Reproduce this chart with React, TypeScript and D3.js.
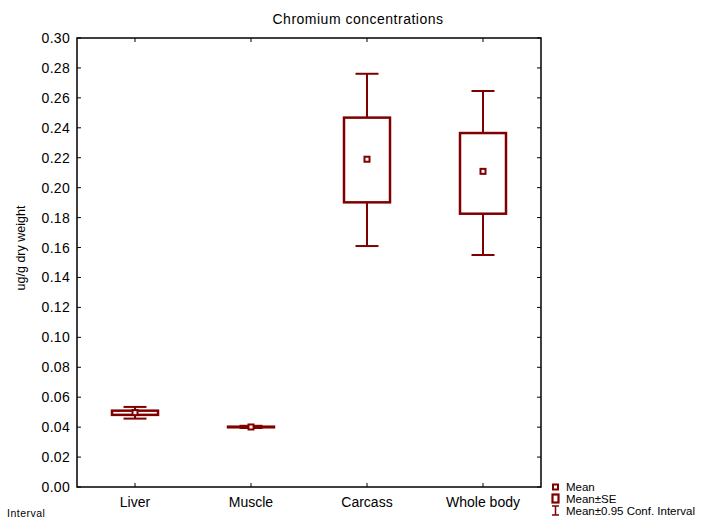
import React from "react";
import * as d3 from "d3";

const categories = ["Liver", "Muscle", "Carcass", "Whole body"];
const means = [0.0497, 0.0401, 0.219, 0.2109];
const seLow = [0.0482, 0.0399, 0.1902, 0.1826];
const seHigh = [0.0510, 0.0403, 0.2468, 0.2365];
const ciLow = [0.0457, 0.0394, 0.161, 0.155];
const ciHigh = [0.0535, 0.0409, 0.2761, 0.2646];
const yTicks = [0, 0.02, 0.04, 0.06, 0.08, 0.1, 0.12, 0.14, 0.16, 0.18, 0.2, 0.22, 0.24, 0.26, 0.28, 0.3];

const W = 715, H = 523;
const L = 77, R = 541, T = 38, B = 487;
const COL = "#800000";
const FONT = "Liberation Sans, Arial, sans-serif";

export default function App() {
  const x = d3.scaleBand().domain(categories).range([L, R]);
  const y = d3.scaleLinear().domain([0, 0.3]).range([B, T]);
  const cx = (c: string) => (x(c) as number) + x.bandwidth() / 2;
  const boxW = 46, capW = 23, m = 5;
  return (
    <svg width={W} height={H} style={{ position: "absolute", left: 0, top: 0, background: "#fff" }} fontFamily={FONT}>
      <rect x={0} y={0} width={W} height={H} fill="#fff" />
      <text x={358} y={24} textAnchor="middle" fontSize={14} letterSpacing={0.5}>Chromium concentrations</text>
      {/* frame */}
      <rect x={L} y={T} width={R - L} height={B - T} fill="none" stroke="#000" strokeWidth={1.5} />
      {yTicks.map((t) => (
        <g key={t}>
          <line x1={L} x2={L + 4} y1={y(t)} y2={y(t)} stroke="#000" />
          <line x1={R - 4} x2={R} y1={y(t)} y2={y(t)} stroke="#000" />
          <text x={70} y={y(t) + 5} textAnchor="end" fontSize={14} letterSpacing={0.3}>{t.toFixed(2)}</text>
        </g>
      ))}
      {categories.map((c) => (
        <g key={c}>
          <line x1={cx(c)} x2={cx(c)} y1={B} y2={B - 4} stroke="#000" />
          <line x1={cx(c)} x2={cx(c)} y1={T} y2={T + 4} stroke="#000" />
          <text x={cx(c)} y={B + 20} textAnchor="middle" fontSize={14}>{c}</text>
        </g>
      ))}
      <text transform={`translate(25,248) rotate(-90)`} textAnchor="middle" fontSize={12.5}>ug/g dry weight</text>
      {categories.map((c, i) => {
        const X = cx(c);
        return (
          <g key={"b" + c} stroke={COL} fill="none">
            <line x1={X} x2={X} y1={y(ciHigh[i])} y2={y(seHigh[i])} strokeWidth={2} />
            <line x1={X} x2={X} y1={y(seLow[i])} y2={y(ciLow[i])} strokeWidth={2} />
            <line x1={X - capW / 2} x2={X + capW / 2} y1={y(ciHigh[i])} y2={y(ciHigh[i])} strokeWidth={2} />
            <line x1={X - capW / 2} x2={X + capW / 2} y1={y(ciLow[i])} y2={y(ciLow[i])} strokeWidth={2} />
            <rect x={X - boxW / 2} y={y(seHigh[i])} width={boxW} height={Math.max(0.5, y(seLow[i]) - y(seHigh[i]))} strokeWidth={2.5} fill="#fff" />
            <rect x={X - m / 2} y={y(means[i]) - m / 2} width={m} height={m} strokeWidth={2} fill="#fff" />
          </g>
        );
      })}
      {/* legend */}
      <g fontSize={11.5}>
        <rect x={553} y={484.5} width={5} height={5} fill="#fff" stroke={COL} strokeWidth={2} />
        <text x={566} y={491}>Mean</text>
        <rect x={552.5} y={494.5} width={6} height={8} fill="#fff" stroke={COL} strokeWidth={2.2} />
        <text x={566} y={502.5}>Mean±SE</text>
        <line x1={555.5} x2={555.5} y1={506} y2={515} stroke={COL} strokeWidth={1.5} />
        <line x1={552} x2={559} y1={506} y2={506} stroke={COL} strokeWidth={1.5} />
        <line x1={552} x2={559} y1={515} y2={515} stroke={COL} strokeWidth={1.5} />
        <text x={566} y={514.5}>Mean±0.95 Conf. Interval</text>
      </g>
      <text x={7} y={517} fontSize={10.5} letterSpacing={0.5}>Interval</text>
    </svg>
  );
}
